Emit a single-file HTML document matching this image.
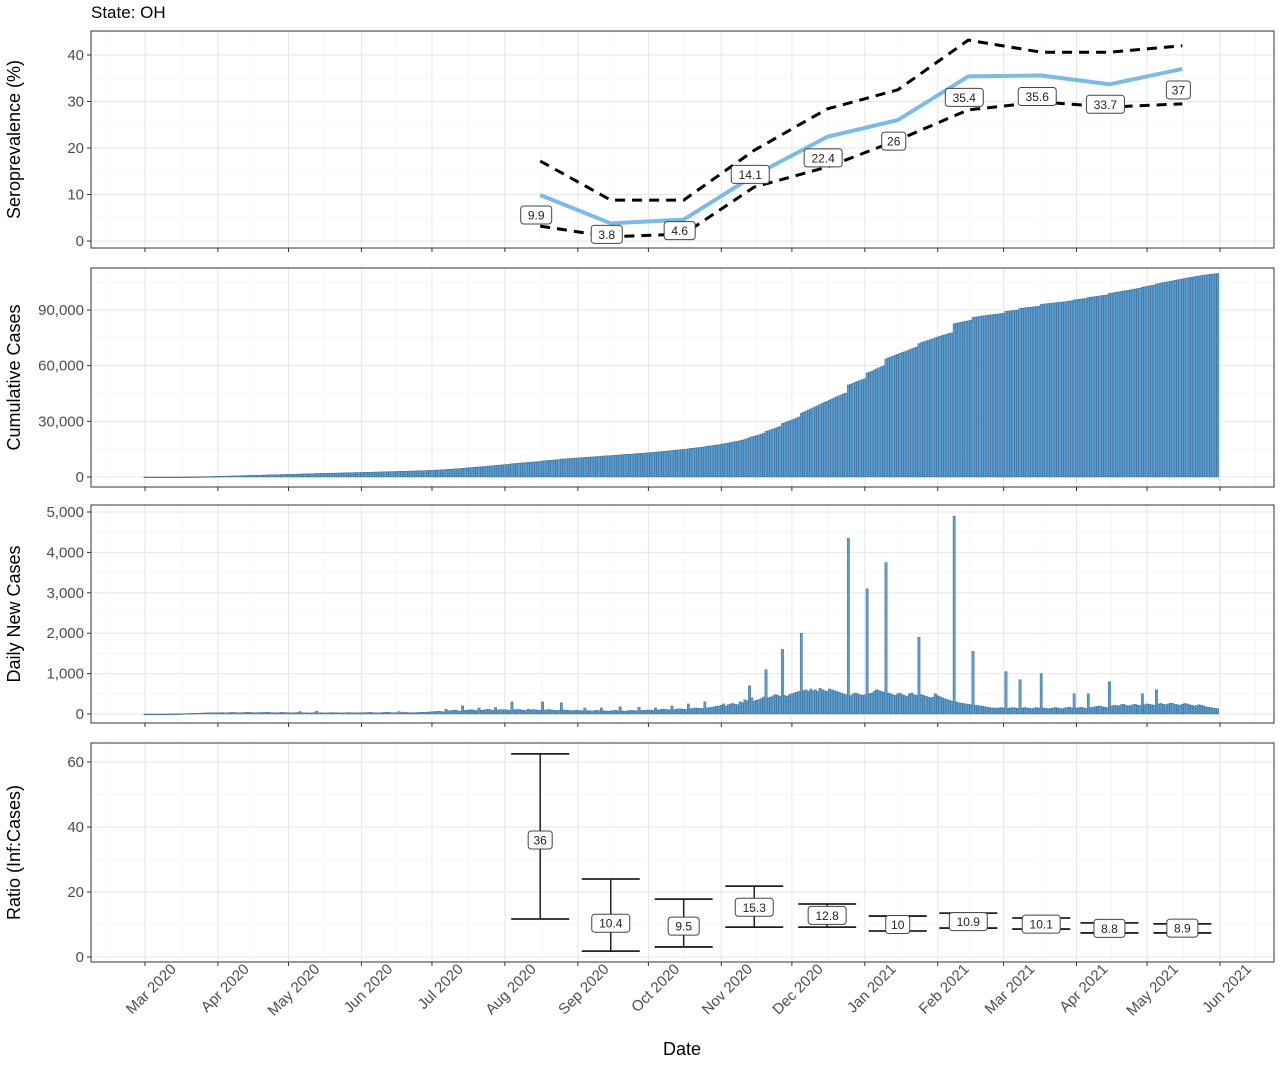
<!DOCTYPE html>
<html><head><meta charset="utf-8"><style>
body{margin:0;background:#fff;}
svg text{font-family:"Liberation Sans",sans-serif;}
</style></head><body>
<svg id="chart" width="1280" height="1060" xmlns="http://www.w3.org/2000/svg">
<text x="91" y="18" font-size="17" fill="#000">State: OH</text>
<g id="g"></g>
</svg>
<script>
// ---- data ----
const monthLabels = ["Mar 2020","Apr 2020","May 2020","Jun 2020","Jul 2020","Aug 2020","Sep 2020","Oct 2020","Nov 2020","Dec 2020","Jan 2021","Feb 2021","Mar 2021","Apr 2021","May 2021","Jun 2021"];
const monthStartDays = [0,31,61,92,122,153,184,214,245,275,306,337,365,396,426,457];
const seroDays = [168,198,229,259,290,320,350,381,410,441];
const seroValues = [9.9,3.8,4.6,14.1,22.4,26,35.4,35.6,33.7,37];
const seroUpper = [17.2,8.8,8.8,19.5,28.4,32.5,43.2,40.6,40.6,42];
const seroLower = [3.2,0.9,1.5,11.6,15.9,21.7,28.2,29.9,28.8,29.5];
const ratioValues = [36,10.4,9.5,15.3,12.8,10,10.9,10.1,8.8,8.9];
const ratioUpper = [62.5,24,17.8,21.8,16.3,12.6,13.5,12,10.5,10.2];
const ratioLower = [11.7,1.8,3.1,9.2,9.2,8,8.9,8.6,7.4,7.4];
const seroTicks = [0,10,20,30,40];
const cumTicks = [0,30000,60000,90000];
const dailyTicks = [0,1000,2000,3000,4000,5000];
const ratioTicks = [0,20,40,60];
const dailyCases = [
0,0,0,0,0,0,0,0,0,1,1,2,3,4,5,6,8,10,12,14,16,18,20,22,24,26,28,30,30,32,34,
30,32,35,30,28,36,40,38,35,30,33,37,40,42,38,35,30,34,38,36,40,42,38,35,30,32,36,40,38,35,
34,30,28,35,38,60,32,30,28,25,30,35,70,32,30,28,26,30,34,36,32,30,28,26,30,34,36,32,30,28,30,
32,34,36,38,40,35,30,28,32,36,40,42,38,35,30,32,60,36,40,38,35,32,30,34,38,40,42,45,48,50,
55,60,65,70,60,55,120,80,85,90,95,80,70,200,90,95,100,110,90,80,150,95,100,110,120,100,90,160,100,110,105,
110,100,90,300,105,110,115,100,95,90,120,100,110,105,95,90,300,100,105,110,100,90,85,95,280,100,95,90,85,80,95,
90,85,80,150,85,80,75,80,90,85,150,80,75,70,80,85,90,80,180,75,70,80,85,90,85,80,170,85,90,95,
100,95,90,150,100,110,120,115,110,105,200,110,120,130,125,120,115,250,130,140,150,145,140,135,300,150,160,170,180,190,200,
220,250,200,230,250,260,240,230,300,280,350,330,700,400,320,340,360,380,420,1100,400,420,450,480,460,440,1600,460,440,480,
500,520,540,560,2000,580,600,560,620,580,600,560,640,600,580,560,620,600,580,560,540,520,500,480,4350,450,500,520,500,480,460,
480,3100,500,520,560,600,580,560,540,3750,520,500,480,460,500,520,480,460,440,500,520,480,460,1900,480,460,440,420,400,420,500,
450,430,400,380,360,340,320,4900,300,280,270,260,250,240,230,1550,220,210,200,190,180,170,160,150,150,140,150,160,
150,1050,140,150,160,150,140,850,150,160,150,140,130,150,160,150,1000,150,140,130,140,150,160,150,140,130,150,160,170,150,500,
150,160,170,150,140,500,160,170,180,190,200,180,170,160,800,200,220,210,200,230,240,220,200,210,230,240,220,210,500,230,
250,240,230,220,600,250,260,240,230,250,270,260,240,230,220,240,260,250,230,220,200,210,230,220,200,180,170,160,150,140,130
];
// label pixel offsets (layout only)
const seroLabelDy = [20,11,11,-1,21,21,21,21,20,21];

// ---- layout ----
const NS="http://www.w3.org/2000/svg";
const g=document.getElementById('g');
const PL=91, PR=1274;
const x0=145, xPerDay=(1220-145)/457;
const X=d=>x0+d*xPerDay;
function el(tag,attrs,parent){const e=document.createElementNS(NS,tag);for(const k in attrs)e.setAttribute(k,attrs[k]);(parent||g).appendChild(e);return e;}
const panels=[
 {name:'seroprevalence',top:31,bot:248,y0:241,yTop:55,vTop:40,ticks:seroTicks,minor:5,title:'Seroprevalence (%)',fmt:v=>String(v)},
 {name:'cumulative',top:268,bot:487,y0:477,yTop:310,vTop:90000,ticks:cumTicks,minor:15000,title:'Cumulative Cases',fmt:v=>v.toLocaleString('en-US')},
 {name:'daily',top:505,bot:723,y0:714,yTop:512,vTop:5000,ticks:dailyTicks,minor:500,title:'Daily New Cases',fmt:v=>v.toLocaleString('en-US')},
 {name:'ratio',top:743,bot:962,y0:957,yTop:762,vTop:60,ticks:ratioTicks,minor:10,title:'Ratio (Inf:Cases)',fmt:v=>String(v)}
];
panels.forEach(p=>{p.Y=v=>p.y0-(v/p.vTop)*(p.y0-p.yTop);});
panels.forEach(p=>{
 const pg=el('g',{});
 
 
 el('rect',{x:PL,y:p.top,width:PR-PL,height:p.bot-p.top,fill:'#fff'},pg);
 // minor y grid
 const maxV=p.Y.length?0:0;
 for(let v=-p.minor;;v+=p.minor*2){const y=p.Y(v+p.minor*0);if(v>-p.minor){} const yy=p.Y(v);if(yy<p.top)break;if(yy<=p.bot&&v>=0-p.minor)el('line',{x1:PL,x2:PR,y1:yy,y2:yy,stroke:'#f4f4f4','stroke-width':0.8},pg);}
 // minor x grid
 for(let i=0;i<monthStartDays.length-1;i++){const xm=X((monthStartDays[i]+monthStartDays[i+1])/2);el('line',{x1:xm,x2:xm,y1:p.top,y2:p.bot,stroke:'#f4f4f4','stroke-width':0.8},pg);}
 const xm0=X(-15);el('line',{x1:xm0,x2:xm0,y1:p.top,y2:p.bot,stroke:'#f4f4f4','stroke-width':0.8},pg);
 const xm1=X(472);el('line',{x1:xm1,x2:xm1,y1:p.top,y2:p.bot,stroke:'#f4f4f4','stroke-width':0.8},pg);
 // major grid
 p.ticks.forEach(v=>{const y=p.Y(v);el('line',{x1:PL,x2:PR,y1:y,y2:y,stroke:'#e6e6e6','stroke-width':1},pg);
  const t=el('text',{x:PL-7,y:y+5,'font-size':15,fill:'#4d4d4d','text-anchor':'end'},pg);t.textContent=p.fmt(v);
  
  
  el('line',{x1:PL-4,x2:PL,y1:y,y2:y,stroke:'#333','stroke-width':1},pg);});
 monthStartDays.forEach(d=>{const x=X(d);el('line',{x1:x,x2:x,y1:p.top,y2:p.bot,stroke:'#e6e6e6','stroke-width':1},pg);
  el('line',{x1:x,x2:x,y1:p.bot,y2:p.bot+4,stroke:'#333','stroke-width':1},pg);});
 const cy=(p.top+p.bot)/2;
 const tt=el('text',{x:0,y:0,'font-size':18,fill:'#000','text-anchor':'middle',transform:`translate(20,${cy}) rotate(-90)`},pg);
 tt.textContent=p.title;
 
 
 p.g=pg;
});
// cumulative + daily bars
const pc=panels[1], pd=panels[2];
let cum=0;
const bw=xPerDay;
dailyCases.forEach((v,i)=>{
 cum+=v;
 const x=X(i)-bw/2;
 const yc=pc.Y(cum);
 const r1=el('rect',{x:x,y:yc,width:bw,height:Math.max(0.8,pc.y0-yc),fill:'#5b9ccf',stroke:'#2d5575','stroke-width':0.35},pc.g);
 
 
 const yd=pd.Y(v);
 const r2=el('rect',{x:x,y:yd,width:bw,height:Math.max(0.8,pd.y0-yd),fill:'#5b9ccf',stroke:'#2d5575','stroke-width':0.35},pd.g);
 
 
});
// seroprevalence
const ps=panels[0];
const pts=a=>a.map((v,i)=>X(seroDays[i])+','+ps.Y(v)).join(' ');
const up=el('polyline',{points:pts(seroUpper),fill:'none',stroke:'#000','stroke-width':3,'stroke-dasharray':'10,7'},ps.g);


const lo=el('polyline',{points:pts(seroLower),fill:'none',stroke:'#000','stroke-width':3,'stroke-dasharray':'10,7'},ps.g);


const ml=el('polyline',{points:pts(seroValues),fill:'none',stroke:'#7bbbe8','stroke-width':4,'stroke-linejoin':'round'},ps.g);


function label(parent,cx,cy,txt,name){
 const w=txt.length*7+10;
 const r=el('rect',{x:cx-w/2,y:cy-9,width:w,height:18,rx:3,fill:'#fff',stroke:'#444','stroke-width':1},parent);
 
 
 const t=el('text',{x:cx,y:cy+4.5,'font-size':12,fill:'#222','text-anchor':'middle'},parent);
 t.textContent=txt;
 
 
}
seroValues.forEach((v,i)=>label(ps.g,X(seroDays[i])-4,ps.Y(v)+seroLabelDy[i],String(v),'seroprevalence-label'));
// ratio error bars
const pr=panels[3];
ratioValues.forEach((v,i)=>{
 const x=X(seroDays[i]);
 const eg=el('g',{},pr.g);
 
 
 const yu=pr.Y(ratioUpper[i]), yl=pr.Y(ratioLower[i]);
 el('line',{x1:x,x2:x,y1:yu,y2:yl,stroke:'#222','stroke-width':1.5},eg);
 el('line',{x1:x-29,x2:x+29,y1:yu,y2:yu,stroke:'#222','stroke-width':1.8},eg);
 el('line',{x1:x-29,x2:x+29,y1:yl,y2:yl,stroke:'#222','stroke-width':1.8},eg);
 label(eg,x,pr.Y(v),String(v),'ratio-label');
});
// panel borders
panels.forEach(p=>{el('rect',{x:PL,y:p.top,width:PR-PL,height:p.bot-p.top,fill:'none',stroke:'#333','stroke-width':1},p.g);});
// x labels
monthLabels.forEach((m,i)=>{
 const x=X(monthStartDays[i]);
 const t=el('text',{x:0,y:0,'font-size':15,fill:'#4d4d4d','text-anchor':'end',transform:`translate(${x+32},${970}) rotate(-45)`});
 t.textContent=m;
 
 
});
const xt=el('text',{x:682,y:1055,'font-size':18,fill:'#000','text-anchor':'middle'});
xt.textContent='Date';


</script>
</body></html>
